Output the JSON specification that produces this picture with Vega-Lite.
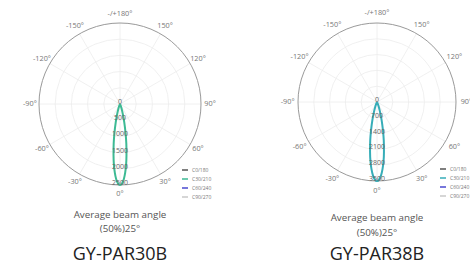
{
  "$schema": "https://vega.github.io/schema/vega-lite/v6.json",
  "background": "white",
  "padding": {"left": 23, "top": 8, "right": 0, "bottom": 0},
  "bounds": "flush",
  "spacing": 97,
  "config": {"view": {"stroke": null}, "font": "Open Sans"},
  "resolve": {
    "scale": {"x": "independent", "y": "independent", "radius": "independent", "theta": "independent", "color": "independent", "size": "independent"},
    "legend": {"color": "independent"}
  },
  "hconcat": [
    {
      "width": 162,
      "height": 162,
      "layer": [
        {
          "data": {"values": [{"r": 500}, {"r": 1000}, {"r": 1500}, {"r": 2000}]},
          "mark": {"type": "point", "shape": "circle", "filled": false, "stroke": "#ececec", "strokeWidth": 0.8, "opacity": 1},
          "encoding": {
            "x": {"datum": 0, "type": "quantitative", "scale": {"domain": [-2500, 2500], "nice": false, "zero": false}, "axis": null},
            "y": {"datum": 0, "type": "quantitative", "scale": {"domain": [-2500, 2500], "nice": false, "zero": false}, "axis": null},
            "size": {"field": "r", "type": "quantitative", "scale": {"type": "pow", "exponent": 2, "domain": [0, 2500], "range": [0, 26244], "zero": true, "nice": false}, "legend": null}
          }
        },
        {
          "data": {"values": [
            {"x1": 0, "y1": -2500, "x2": 0, "y2": 2500},
            {"x1": 1250, "y1": -2165, "x2": -1250, "y2": 2165},
            {"x1": 2165, "y1": -1250, "x2": -2165, "y2": 1250},
            {"x1": 2500, "y1": 0, "x2": -2500, "y2": 0},
            {"x1": 2165, "y1": 1250, "x2": -2165, "y2": -1250},
            {"x1": 1250, "y1": 2165, "x2": -1250, "y2": -2165}
          ]},
          "mark": {"type": "rule", "stroke": "#ececec", "strokeWidth": 0.8},
          "encoding": {
            "x": {"field": "x1", "type": "quantitative"},
            "y": {"field": "y1", "type": "quantitative"},
            "x2": {"field": "x2"},
            "y2": {"field": "y2"}
          }
        },
        {
          "data": {"values": [{"r": 2500}]},
          "mark": {"type": "point", "shape": "circle", "filled": false, "stroke": "#9a9a9a", "strokeWidth": 1, "opacity": 1},
          "encoding": {
            "x": {"datum": 0, "type": "quantitative"},
            "y": {"datum": 0, "type": "quantitative"},
            "size": {"field": "r", "type": "quantitative", "legend": null}
          }
        },
        {
          "data": {"values": [
            {"c": "C30/210", "a": -40, "x": 0, "y": 0},
            {"c": "C30/210", "a": -30, "x": -17, "y": -40},
            {"c": "C30/210", "a": -25, "x": -48, "y": -141},
            {"c": "C30/210", "a": -21, "x": -91, "y": -330},
            {"c": "C30/210", "a": -18, "x": -132, "y": -565},
            {"c": "C30/210", "a": -15, "x": -171, "y": -890},
            {"c": "C30/210", "a": -12.5, "x": -195, "y": -1220},
            {"c": "C30/210", "a": -10, "x": -200, "y": -1580},
            {"c": "C30/210", "a": -8, "x": -189, "y": -1864},
            {"c": "C30/210", "a": -6, "x": -160, "y": -2118},
            {"c": "C30/210", "a": -4, "x": -117, "y": -2323},
            {"c": "C30/210", "a": -2, "x": -62, "y": -2455},
            {"c": "C30/210", "a": 0, "x": 0, "y": -2500},
            {"c": "C30/210", "a": 2, "x": 62, "y": -2455},
            {"c": "C30/210", "a": 4, "x": 117, "y": -2323},
            {"c": "C30/210", "a": 6, "x": 160, "y": -2118},
            {"c": "C30/210", "a": 8, "x": 189, "y": -1864},
            {"c": "C30/210", "a": 10, "x": 200, "y": -1580},
            {"c": "C30/210", "a": 12.5, "x": 195, "y": -1220},
            {"c": "C30/210", "a": 15, "x": 171, "y": -890},
            {"c": "C30/210", "a": 18, "x": 132, "y": -565},
            {"c": "C30/210", "a": 21, "x": 91, "y": -330},
            {"c": "C30/210", "a": 25, "x": 48, "y": -141},
            {"c": "C30/210", "a": 30, "x": 17, "y": -40},
            {"c": "C30/210", "a": 40, "x": 0, "y": 0}
          ]},
          "mark": {"type": "line", "strokeWidth": 2, "interpolate": "cardinal"},
          "encoding": {
            "x": {"field": "x", "type": "quantitative"},
            "y": {"field": "y", "type": "quantitative"},
            "order": {"field": "a", "type": "quantitative"},
            "color": {
              "field": "c", "type": "nominal",
              "scale": {"domain": ["C0/180", "C30/210", "C60/240", "C90/270"], "range": ["#555555", "#3dba94", "#4a4acf", "#c8c8c8"]},
              "legend": {"orient": "none", "legendX": 142, "legendY": 143, "title": null, "symbolType": "stroke", "symbolSize": 36, "symbolStrokeWidth": 1.5, "labelFontSize": 5, "labelColor": "#777777", "rowPadding": 2, "labelOffset": 3}
            }
          }
        },
        {
          "data": {"values": [
            {"a": 0, "t": "0°"}, {"a": 30, "t": "30°"}, {"a": 60, "t": "60°"}, {"a": 90, "t": "90°"},
            {"a": 120, "t": "120°"}, {"a": 150, "t": "150°"}, {"a": 180, "t": "-/+180°"},
            {"a": -150, "t": "-150°"}, {"a": -120, "t": "-120°"}, {"a": -90, "t": "-90°"},
            {"a": -60, "t": "-60°"}, {"a": -30, "t": "-30°"}
          ]},
          "mark": {"type": "text", "fontSize": 7.3, "color": "#777777", "baseline": "middle", "align": "center"},
          "encoding": {
            "theta": {"field": "a", "type": "quantitative", "stack": null, "scale": {"domain": [-180, 180], "range": [6.2832, 0], "zero": false, "nice": false}},
            "radius": {"datum": 2780, "type": "quantitative", "scale": {"type": "linear", "domain": [0, 2500], "range": [0, 81], "zero": true, "nice": false}},
            "text": {"field": "t"}
          }
        },
        {
          "data": {"values": [
            {"r": 0, "t": "0"}, {"r": 500, "t": "500"}, {"r": 1000, "t": "1000"},
            {"r": 1500, "t": "1500"}, {"r": 2000, "t": "2000"}, {"r": 2500, "t": "2500"}
          ]},
          "mark": {"type": "text", "fontSize": 7, "color": "#666666", "baseline": "middle", "align": "center", "dy": -2},
          "encoding": {
            "theta": {"datum": 0, "type": "quantitative"},
            "radius": {"field": "r", "type": "quantitative"},
            "text": {"field": "t"}
          }
        },
        {
          "data": {"values": [{"d": 3420, "t": "Average beam angle"}, {"d": 3860, "t": "(50%)25°"}]},
          "mark": {"type": "text", "fontSize": 9.8, "color": "#555555", "baseline": "middle", "align": "center"},
          "encoding": {
            "theta": {"datum": 0, "type": "quantitative"},
            "radius": {"field": "d", "type": "quantitative"},
            "text": {"field": "t"}
          }
        },
        {
          "data": {"values": [{"d": 4660, "t": "GY-PAR30B"}]},
          "mark": {"type": "text", "fontSize": 18, "color": "#222222", "baseline": "middle", "align": "center"},
          "encoding": {
            "theta": {"datum": 0, "type": "quantitative"},
            "radius": {"field": "d", "type": "quantitative"},
            "text": {"field": "t"}
          }
        }
      ]
    },
    {
      "width": 158,
      "height": 158,
      "layer": [
        {
          "data": {"values": [{"r": 700}, {"r": 1400}, {"r": 2100}, {"r": 2800}]},
          "mark": {"type": "point", "shape": "circle", "filled": false, "stroke": "#ececec", "strokeWidth": 0.8, "opacity": 1},
          "encoding": {
            "x": {"datum": 0, "type": "quantitative", "scale": {"domain": [-3500, 3500], "nice": false, "zero": false}, "axis": null},
            "y": {"datum": 0, "type": "quantitative", "scale": {"domain": [-3500, 3500], "nice": false, "zero": false}, "axis": null},
            "size": {"field": "r", "type": "quantitative", "scale": {"type": "pow", "exponent": 2, "domain": [0, 3500], "range": [0, 24964], "zero": true, "nice": false}, "legend": null}
          }
        },
        {
          "data": {"values": [
            {"x1": 0, "y1": -3500, "x2": 0, "y2": 3500},
            {"x1": 1750, "y1": -3031, "x2": -1750, "y2": 3031},
            {"x1": 3031, "y1": -1750, "x2": -3031, "y2": 1750},
            {"x1": 3500, "y1": 0, "x2": -3500, "y2": 0},
            {"x1": 3031, "y1": 1750, "x2": -3031, "y2": -1750},
            {"x1": 1750, "y1": 3031, "x2": -1750, "y2": -3031}
          ]},
          "mark": {"type": "rule", "stroke": "#ececec", "strokeWidth": 0.8},
          "encoding": {
            "x": {"field": "x1", "type": "quantitative"},
            "y": {"field": "y1", "type": "quantitative"},
            "x2": {"field": "x2"},
            "y2": {"field": "y2"}
          }
        },
        {
          "data": {"values": [{"r": 3500}]},
          "mark": {"type": "point", "shape": "circle", "filled": false, "stroke": "#9a9a9a", "strokeWidth": 1, "opacity": 1},
          "encoding": {
            "x": {"datum": 0, "type": "quantitative"},
            "y": {"datum": 0, "type": "quantitative"},
            "size": {"field": "r", "type": "quantitative", "legend": null}
          }
        },
        {
          "data": {"values": [
            {"c": "C30/210", "a": -40, "x": 0, "y": 0},
            {"c": "C30/210", "a": -30, "x": -26, "y": -56},
            {"c": "C30/210", "a": -25, "x": -74, "y": -197},
            {"c": "C30/210", "a": -21, "x": -140, "y": -462},
            {"c": "C30/210", "a": -18, "x": -203, "y": -791},
            {"c": "C30/210", "a": -15, "x": -263, "y": -1246},
            {"c": "C30/210", "a": -12.5, "x": -300, "y": -1708},
            {"c": "C30/210", "a": -10, "x": -308, "y": -2212},
            {"c": "C30/210", "a": -8, "x": -291, "y": -2610},
            {"c": "C30/210", "a": -6, "x": -246, "y": -2965},
            {"c": "C30/210", "a": -4, "x": -180, "y": -3252},
            {"c": "C30/210", "a": -2, "x": -95, "y": -3437},
            {"c": "C30/210", "a": 0, "x": 0, "y": -3500},
            {"c": "C30/210", "a": 2, "x": 95, "y": -3437},
            {"c": "C30/210", "a": 4, "x": 180, "y": -3252},
            {"c": "C30/210", "a": 6, "x": 246, "y": -2965},
            {"c": "C30/210", "a": 8, "x": 291, "y": -2610},
            {"c": "C30/210", "a": 10, "x": 308, "y": -2212},
            {"c": "C30/210", "a": 12.5, "x": 300, "y": -1708},
            {"c": "C30/210", "a": 15, "x": 263, "y": -1246},
            {"c": "C30/210", "a": 18, "x": 203, "y": -791},
            {"c": "C30/210", "a": 21, "x": 140, "y": -462},
            {"c": "C30/210", "a": 25, "x": 74, "y": -197},
            {"c": "C30/210", "a": 30, "x": 26, "y": -56},
            {"c": "C30/210", "a": 40, "x": 0, "y": 0}
          ]},
          "mark": {"type": "line", "strokeWidth": 2, "interpolate": "cardinal"},
          "encoding": {
            "x": {"field": "x", "type": "quantitative"},
            "y": {"field": "y", "type": "quantitative"},
            "order": {"field": "a", "type": "quantitative"},
            "color": {
              "field": "c", "type": "nominal",
              "scale": {"domain": ["C0/180", "C30/210", "C60/240", "C90/270"], "range": ["#555555", "#36adb8", "#4a4acf", "#c8c8c8"]},
              "legend": {"orient": "none", "legendX": 141, "legendY": 142, "title": null, "symbolType": "stroke", "symbolSize": 36, "symbolStrokeWidth": 1.5, "labelFontSize": 5, "labelColor": "#777777", "rowPadding": 2, "labelOffset": 3}
            }
          }
        },
        {
          "data": {"values": [
            {"a": 0, "t": "0°"}, {"a": 30, "t": "30°"}, {"a": 60, "t": "60°"}, {"a": 90, "t": "90°"},
            {"a": 120, "t": "120°"}, {"a": 150, "t": "150°"}, {"a": 180, "t": "-/+180°"},
            {"a": -150, "t": "-150°"}, {"a": -120, "t": "-120°"}, {"a": -90, "t": "-90°"},
            {"a": -60, "t": "-60°"}, {"a": -30, "t": "-30°"}
          ]},
          "mark": {"type": "text", "fontSize": 7.3, "color": "#777777", "baseline": "middle", "align": "center"},
          "encoding": {
            "theta": {"field": "a", "type": "quantitative", "stack": null, "scale": {"domain": [-180, 180], "range": [6.2832, 0], "zero": false, "nice": false}},
            "radius": {"datum": 3960, "type": "quantitative", "scale": {"type": "linear", "domain": [0, 3500], "range": [0, 79], "zero": true, "nice": false}},
            "text": {"field": "t"}
          }
        },
        {
          "data": {"values": [
            {"r": 0, "t": "0"}, {"r": 700, "t": "700"}, {"r": 1400, "t": "1400"},
            {"r": 2100, "t": "2100"}, {"r": 2800, "t": "2800"}, {"r": 3500, "t": "3500"}
          ]},
          "mark": {"type": "text", "fontSize": 7, "color": "#666666", "baseline": "middle", "align": "center", "dy": -2},
          "encoding": {
            "theta": {"datum": 0, "type": "quantitative"},
            "radius": {"field": "r", "type": "quantitative"},
            "text": {"field": "t"}
          }
        },
        {
          "data": {"values": [{"d": 5140, "t": "Average beam angle"}, {"d": 5800, "t": "(50%)25°"}]},
          "mark": {"type": "text", "fontSize": 9.8, "color": "#555555", "baseline": "middle", "align": "center"},
          "encoding": {
            "theta": {"datum": 0, "type": "quantitative"},
            "radius": {"field": "d", "type": "quantitative"},
            "text": {"field": "t"}
          }
        },
        {
          "data": {"values": [{"d": 6778, "t": "GY-PAR38B"}]},
          "mark": {"type": "text", "fontSize": 18, "color": "#222222", "baseline": "middle", "align": "center"},
          "encoding": {
            "theta": {"datum": 0, "type": "quantitative"},
            "radius": {"field": "d", "type": "quantitative"},
            "text": {"field": "t"}
          }
        }
      ]
    }
  ]
}
